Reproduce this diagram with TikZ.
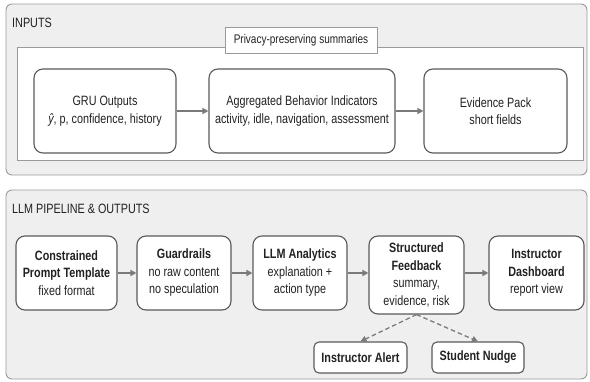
\documentclass[tikz,border=0pt]{standalone}
\usepackage{fontspec}
\setmainfont{Liberation Sans}[FakeStretch=0.8]
\usetikzlibrary{arrows.meta,positioning}
\definecolor{panelfill}{HTML}{EFEFEF}
\definecolor{panelline}{HTML}{9A9A9A}
\definecolor{boxline}{HTML}{5A5A5A}
\definecolor{arrowcol}{HTML}{7A7A7A}
\definecolor{txt}{HTML}{222222}
\tikzset{
  panel/.style={draw=panelline, fill=panelfill, line width=0.9pt, rounded corners=6pt},
  stagebox/.style={draw=boxline, fill=white, line width=1.1pt, rounded corners=9pt,
    align=center, inner sep=0pt, text=txt, font=\fontsize{13.5}{17.5}\selectfont},
  smallbox/.style={draw=boxline, fill=white, line width=1.1pt, rounded corners=5pt,
    align=center, inner sep=0pt, text=txt, font=\fontsize{13.5}{17}\selectfont\bfseries},
  flow/.style={draw=arrowcol, line width=1.3pt, -{Triangle[length=6pt,width=6pt]}},
  optflow/.style={draw=arrowcol, line width=1.3pt, dashed, dash pattern=on 4.5pt off 3pt,
    -{Triangle[length=6pt,width=6pt]}},
  paneltitle/.style={anchor=west, text=txt, font=\fontsize{13.5}{16}\selectfont, inner sep=0pt},
}
\begin{document}
\begin{tikzpicture}[x=1pt,y=-1pt]
\useasboundingbox (0,0) rectangle (590,381);

% ---- Inputs panel ----
\draw[panel] (6,4) rectangle (587,175);
\node[paneltitle] (inputsT) at (12,23) {INPUTS};
\draw[draw=panelline, fill=white, line width=0.9pt] (17,47) rectangle (583,160);
\node[draw=panelline, fill=white, line width=0.9pt, minimum width=152pt, minimum height=26pt,
      inner sep=0pt, text=txt, font=\fontsize{12.5}{15}\selectfont] (privacy) at (301,40)
      {Privacy-preserving summaries};

\node[stagebox, minimum width=142pt, minimum height=84pt] (gru) at (105,111)
  {GRU Outputs\\{\itshape ŷ}, p, confidence, history};
\node[stagebox, minimum width=186pt, minimum height=84pt] (agg) at (302,111)
  {Aggregated Behavior Indicators\\activity, idle, navigation, assessment};
\node[stagebox, minimum width=143pt, minimum height=84pt] (evid) at (495.5,111)
  {Evidence Pack\\short fields};
\draw[flow] (gru) -- (agg);
\draw[flow] (agg) -- (evid);

% ---- LLM pipeline panel ----
\draw[panel] (6,190) rectangle (587,379);
\node[paneltitle] (llmT) at (12,209) {LLM PIPELINE \& OUTPUTS};

\node[stagebox, minimum width=101pt, minimum height=74pt] (prompt) at (66.5,273)
  {\bfseries Constrained\\\bfseries Prompt Template\\fixed format};
\node[stagebox, minimum width=94pt, minimum height=74pt] (guard) at (184,273)
  {\bfseries Guardrails\\no raw content\\no speculation};
\node[stagebox, minimum width=94pt, minimum height=74pt] (llm) at (300,273)
  {\bfseries LLM Analytics\\explanation +\\action type};
\node[stagebox, minimum width=95pt, minimum height=78pt] (feed) at (416.5,275)
  {\bfseries Structured\\\bfseries Feedback\\summary,\\evidence, risk};
\node[stagebox, minimum width=95pt, minimum height=74pt] (dash) at (536.5,273)
  {\bfseries Instructor\\\bfseries Dashboard\\report view};

\draw[flow] (prompt) -- (guard);
\draw[flow] (guard) -- (llm);
\draw[flow] (llm) -- (feed.west |- llm.east);
\draw[flow] (feed.east |- dash.west) -- (dash);

\node[smallbox, minimum width=93pt, minimum height=31pt] (alert) at (360.5,357.5) {Instructor Alert};
\node[smallbox, minimum width=92pt, minimum height=31pt] (nudge) at (478,357.5) {Student Nudge};

\draw[optflow] (feed.south) -- (alert.north);
\draw[optflow] (feed.south) -- (nudge.north);
\end{tikzpicture}
\end{document}
